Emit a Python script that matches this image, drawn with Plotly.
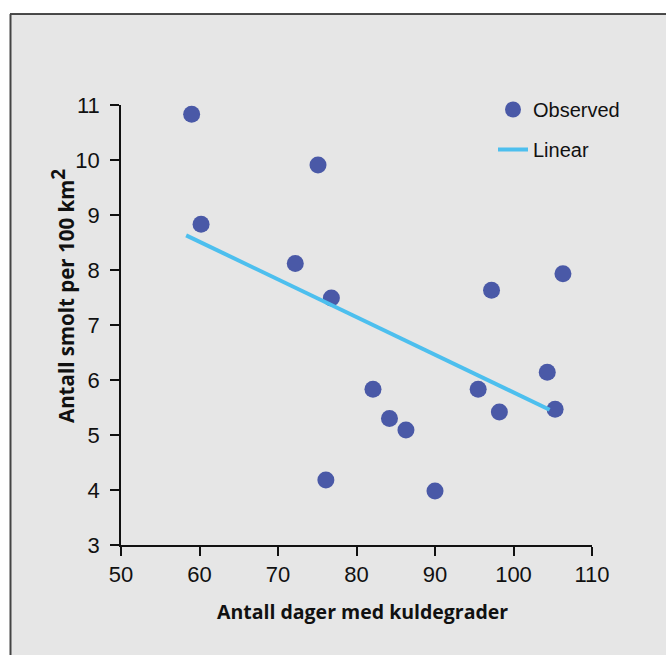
import plotly.graph_objects as go

# Observed smolt density against number of frost days
frost_days = [59.0, 60.2, 75.1, 72.2, 76.8, 76.1, 82.1, 84.2, 86.3, 90.0,
              95.5, 97.2, 98.2, 104.3, 105.3, 106.3]
smolt_per_100km2 = [10.83, 8.83, 9.91, 8.12, 7.49, 4.18, 5.83, 5.30, 5.09, 3.98,
                    5.83, 7.63, 5.42, 6.14, 5.47, 7.93]

# Linear fit end points
fit_days = [58.3, 104.6]
fit_smolt = [8.63, 5.46]

x_ticks = [50, 60, 70, 80, 90, 100, 110]
y_ticks = [3, 4, 5, 6, 7, 8, 9, 10, 11]

BG = "#e6e6e6"
DOT = "#4a59a7"
FIT = "#4dbfee"
TICK_FONT = "Liberation Sans Narrow, Arial Narrow, sans-serif"
TITLE_FONT = "Open Sans, sans-serif"

# plot area in pixels, used to place the frame and labels in paper units
L, R, T, B = 121, 592, 105, 545
W, H = R - L, B - T


def px(x):
    return (x - L) / W


def py(y):
    return (B - y) / H


fig = go.Figure()
fig.add_trace(go.Scatter(
    x=frost_days, y=smolt_per_100km2, mode="markers", name="Observed",
    legendgroup="a",
    marker=dict(color=DOT, size=17, line=dict(width=0)),
))
fig.add_trace(go.Scatter(
    x=fit_days, y=fit_smolt, mode="lines", name="Linear",
    legendgroup="b",
    line=dict(color=FIT, width=4),
))

axis_common = dict(
    showgrid=False, zeroline=False, showline=True, linecolor="#111111",
    linewidth=1.5, ticks="outside", ticklen=9, tickwidth=1.5,
    tickcolor="#111111", tickfont=dict(family=TICK_FONT, size=22, color="#111111"),
)

fig.update_xaxes(range=[50, 110], tickvals=x_ticks, ticklabelstandoff=0,
                 **axis_common)
fig.update_yaxes(range=[3, 11], tickvals=y_ticks, ticklabelstandoff=6,
                 **axis_common)

fig.update_layout(
    width=666, height=655,
    margin=dict(l=L, r=666 - R, t=T, b=655 - B, pad=0),
    paper_bgcolor="white", plot_bgcolor=BG,
    showlegend=True,
    legend=dict(
        x=px(493), y=py(90), xanchor="left", yanchor="top",
        bgcolor="rgba(0,0,0,0)", borderwidth=0,
        font=dict(family=TICK_FONT, size=20, color="#111111"),
        traceorder="grouped", tracegroupgap=11,
    ),
    shapes=[
        # grey panel with a dark frame on the top and left
        dict(type="rect", xref="paper", yref="paper", layer="below",
             x0=px(10), x1=px(700), y0=py(700), y1=py(14),
             fillcolor=BG, line=dict(width=0)),
        dict(type="line", xref="paper", yref="paper",
             x0=px(10), x1=px(700), y0=py(14), y1=py(14),
             line=dict(color="#111111", width=1.5)),
        dict(type="line", xref="paper", yref="paper",
             x0=px(10.5), x1=px(10.5), y0=py(700), y1=py(14),
             line=dict(color="#444444", width=2)),
    ],
    annotations=[
        dict(text="Antall dager med kuldegrader", xref="paper", yref="paper",
             x=px(362.5), y=py(611), xanchor="center", yanchor="middle",
             showarrow=False,
             font=dict(family=TITLE_FONT, size=19.5, color="#111111",
                       weight="bold")),
        dict(text='Antall smolt per 100 km<sup><span style="font-size:19px">2</span></sup>',
             xref="paper", yref="paper", x=px(62), y=py(296),
             xanchor="center", yanchor="middle", textangle=-90,
             showarrow=False,
             font=dict(family=TITLE_FONT, size=20.5, color="#111111",
                       weight="bold")),
    ],
)

fig.write_html("out.html")
